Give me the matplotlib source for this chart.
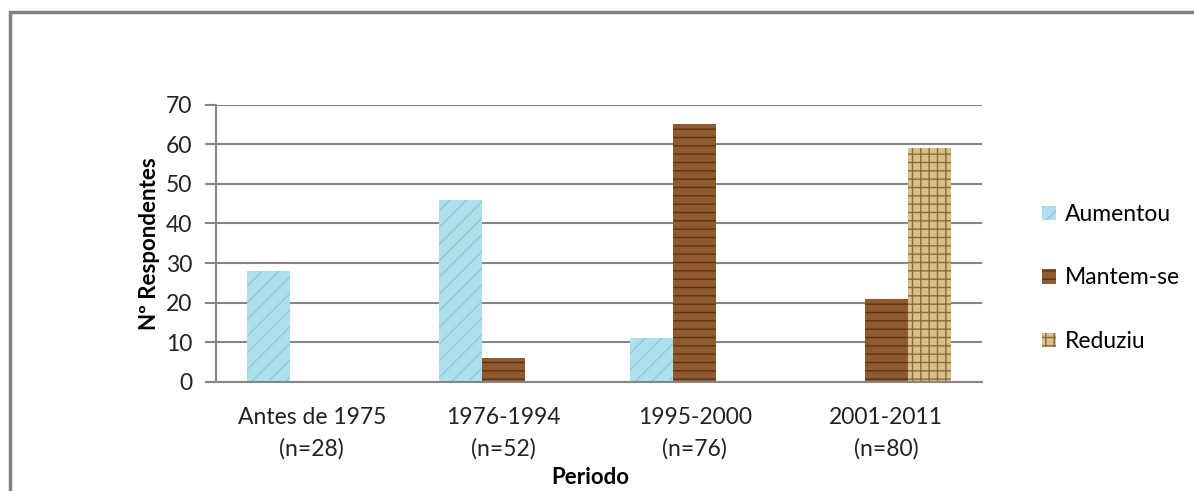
import matplotlib.pyplot as plt
import numpy as np
from matplotlib.patches import Rectangle

periods = ["Antes de 1975\n(n=28)", "1976-1994\n(n=52)", "1995-2000\n(n=76)", "2001-2011\n(n=80)"]
aumentou = [28, 46, 11, 0]
mantem = [0, 6, 65, 21]
reduziu = [0, 0, 0, 59]
series_names = ["Aumentou", "Mantem-se", "Reduziu"]

plt.rcParams['font.family'] = ['Lato', 'DejaVu Sans']

fig = plt.figure(figsize=(11.94, 4.91), dpi=100)
ax = fig.add_axes([0.1809, 0.222, 0.6415, 0.565])

x = np.arange(len(periods))
w = 0.225
grey = "#868686"

ax.bar(x - w, aumentou, w, color="#aee0ec", edgecolor="#8fcadb", hatch="//", linewidth=0, label=series_names[0])
ax.bar(x, mantem, w, color="#8e5a2e", edgecolor="#5e3410", hatch="--", linewidth=0, label=series_names[1])
ax.bar(x + w, reduziu, w, color="#d9c08a", edgecolor="#8a6a3a", hatch="++", linewidth=0, label=series_names[2])

ax.set_xlim(-0.5, 3.5)
ax.set_ylim(0, 70)
ax.set_yticks(range(0, 71, 10))
ax.yaxis.grid(True, color=grey, linewidth=1.5)
ax.set_axisbelow(True)
for s in ["top", "right"]:
    ax.spines[s].set_visible(False)
for s in ["left", "bottom"]:
    ax.spines[s].set_color(grey)
    ax.spines[s].set_linewidth(1.5)

ax.set_xticks(x)
ax.set_xticklabels(periods, fontsize=16.5, linespacing=1.6, color="#222222")
ax.tick_params(axis="x", length=0, pad=18)
ax.tick_params(axis="y", length=8, width=1.5, color=grey, labelsize=16.5, pad=9, labelcolor="#222222")

ax.set_ylabel("Nº Respondentes", fontsize=16, fontweight="bold", labelpad=4)
fig.text(590 / 1194, 1 - 478 / 491, "Periodo", fontsize=16, fontweight="bold", ha="center", va="center")

ax.legend(loc="center left", bbox_to_anchor=(1.052, 0.375), frameon=False, fontsize=16.5,
          labelspacing=1.85, handlelength=0.6, handleheight=0.6, handletextpad=0.4)

fig.patches.append(Rectangle((10 / 1194, -0.2), 1.2, 1.2 - 12 / 491, transform=fig.transFigure,
                             fill=False, edgecolor="#808080", linewidth=2.5))

fig.savefig("out.png", dpi=100)
